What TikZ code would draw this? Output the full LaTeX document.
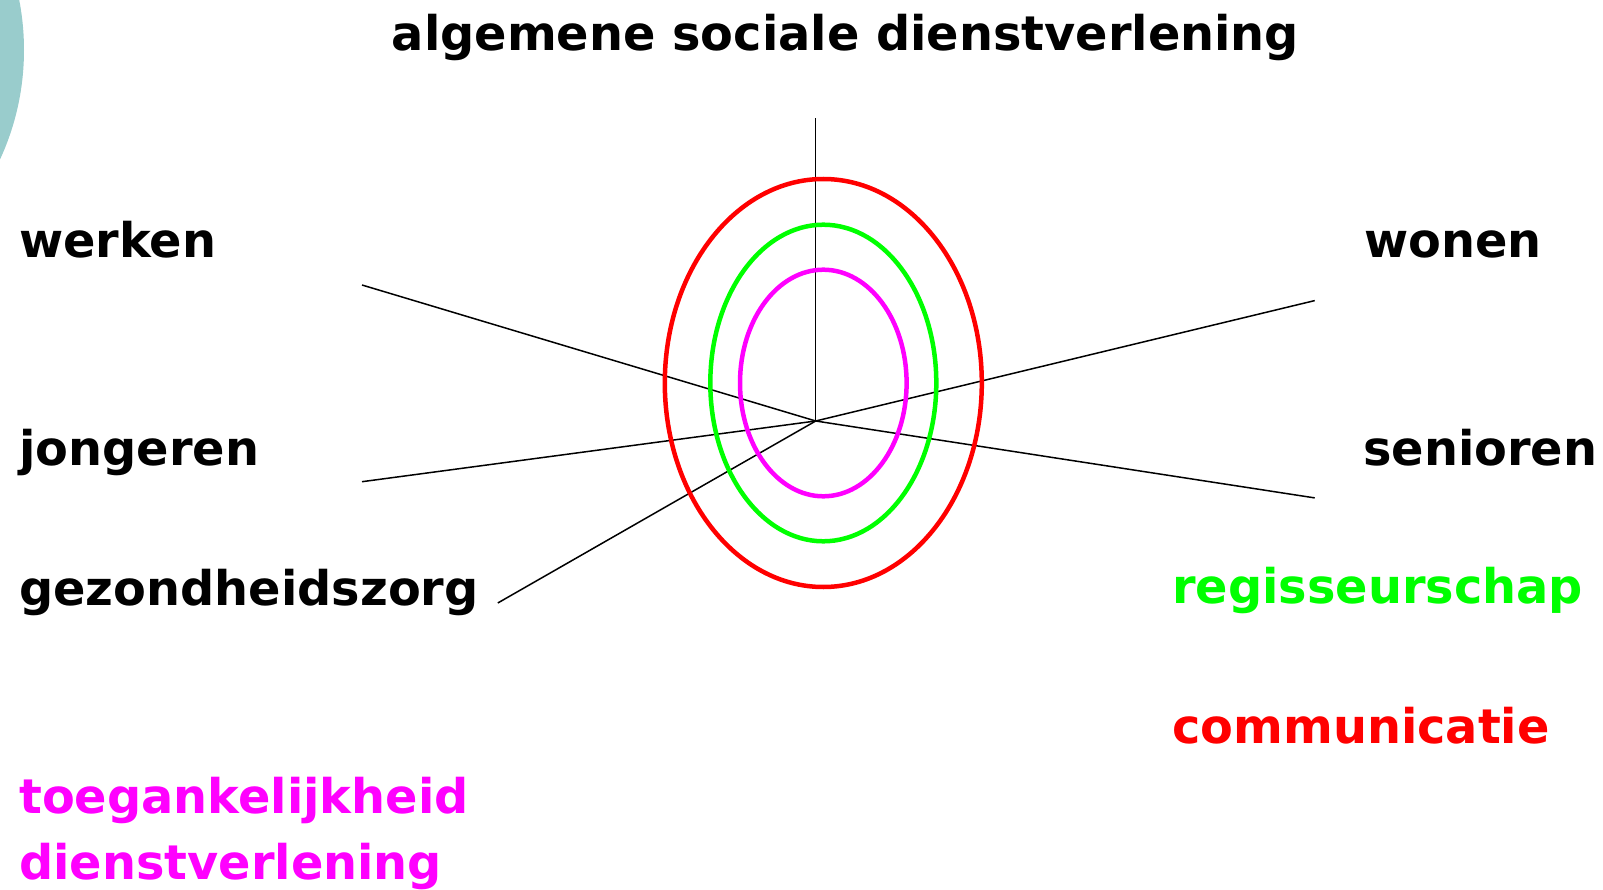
\documentclass[tikz,border=0pt]{standalone}
\usepackage{fontspec}
\setmainfont{DejaVu Sans}
\definecolor{tealbg}{RGB}{153,204,204}
\definecolor{ringred}{RGB}{255,0,0}
\definecolor{ringgreen}{RGB}{0,255,0}
\definecolor{ringmagenta}{RGB}{255,0,255}
\tikzset{
    lbl/.style={anchor=base west, inner sep=0pt, font=\fontsize{47.8}{56}\selectfont\bfseries},
    spoke/.style={black, line width=1.5pt},
    ring/.style={line width=4.5pt}
}
\begin{document}
\begin{tikzpicture}[x=1pt, y=1pt]
        % 0. Fix the page to the slide size
        \useasboundingbox (0,0) rectangle (1603,-890);

        % 1. Teal disc, mostly off the page
        \fill[tealbg] (-237,-50) circle (261pt);

        % 2. The spokes from the hub
        \coordinate (hub) at (815.7,-421);
        \foreach \name/\x/\y in {top/815.7/118.3, werk/362/285, jong/362/481.7,
                                 zorg/497.8/603, woon/1314.7/300.6, seni/1314.7/497.9} {
            \coordinate (\name) at (\x,-\y);
            \draw[spoke] (hub) -- (\name);
        }

        % 3. The three rings
        \draw[ring, ringred]     (823.3,-383) ellipse [x radius=158.5pt, y radius=204pt];
        \draw[ring, ringgreen]   (823.3,-383) ellipse [x radius=113pt, y radius=158.3pt];
        \draw[ring, ringmagenta] (823.3,-383) ellipse [x radius=83.3pt, y radius=113.3pt];

        % 4. Add the labels
        % Top
        \node[lbl, anchor=base] (title) at (845.5,-51) {algemene sociale dienstverlening};
        % Left
        \node[lbl] (werken) at (19,-257.5) {werken};
        \node[lbl] (jongeren) at (19,-465) {jongeren};
        \node[lbl] (zorg) at (19,-605) {gezondheidszorg};
        \node[lbl, ringmagenta] (toegang) at (19,-813) {toegankelijkheid};
        \node[lbl, ringmagenta] (dienst) at (19,-879) {dienstverlening};
        % Right
        \node[lbl] (wonen) at (1364,-257.5) {wonen};
        \node[lbl] (senioren) at (1363,-465) {senioren};
        \node[lbl, ringgreen] (regie) at (1172,-603) {regisseurschap};
        \node[lbl, ringred] (commu) at (1172,-743) {communicatie};
    \end{tikzpicture}
\end{document}
